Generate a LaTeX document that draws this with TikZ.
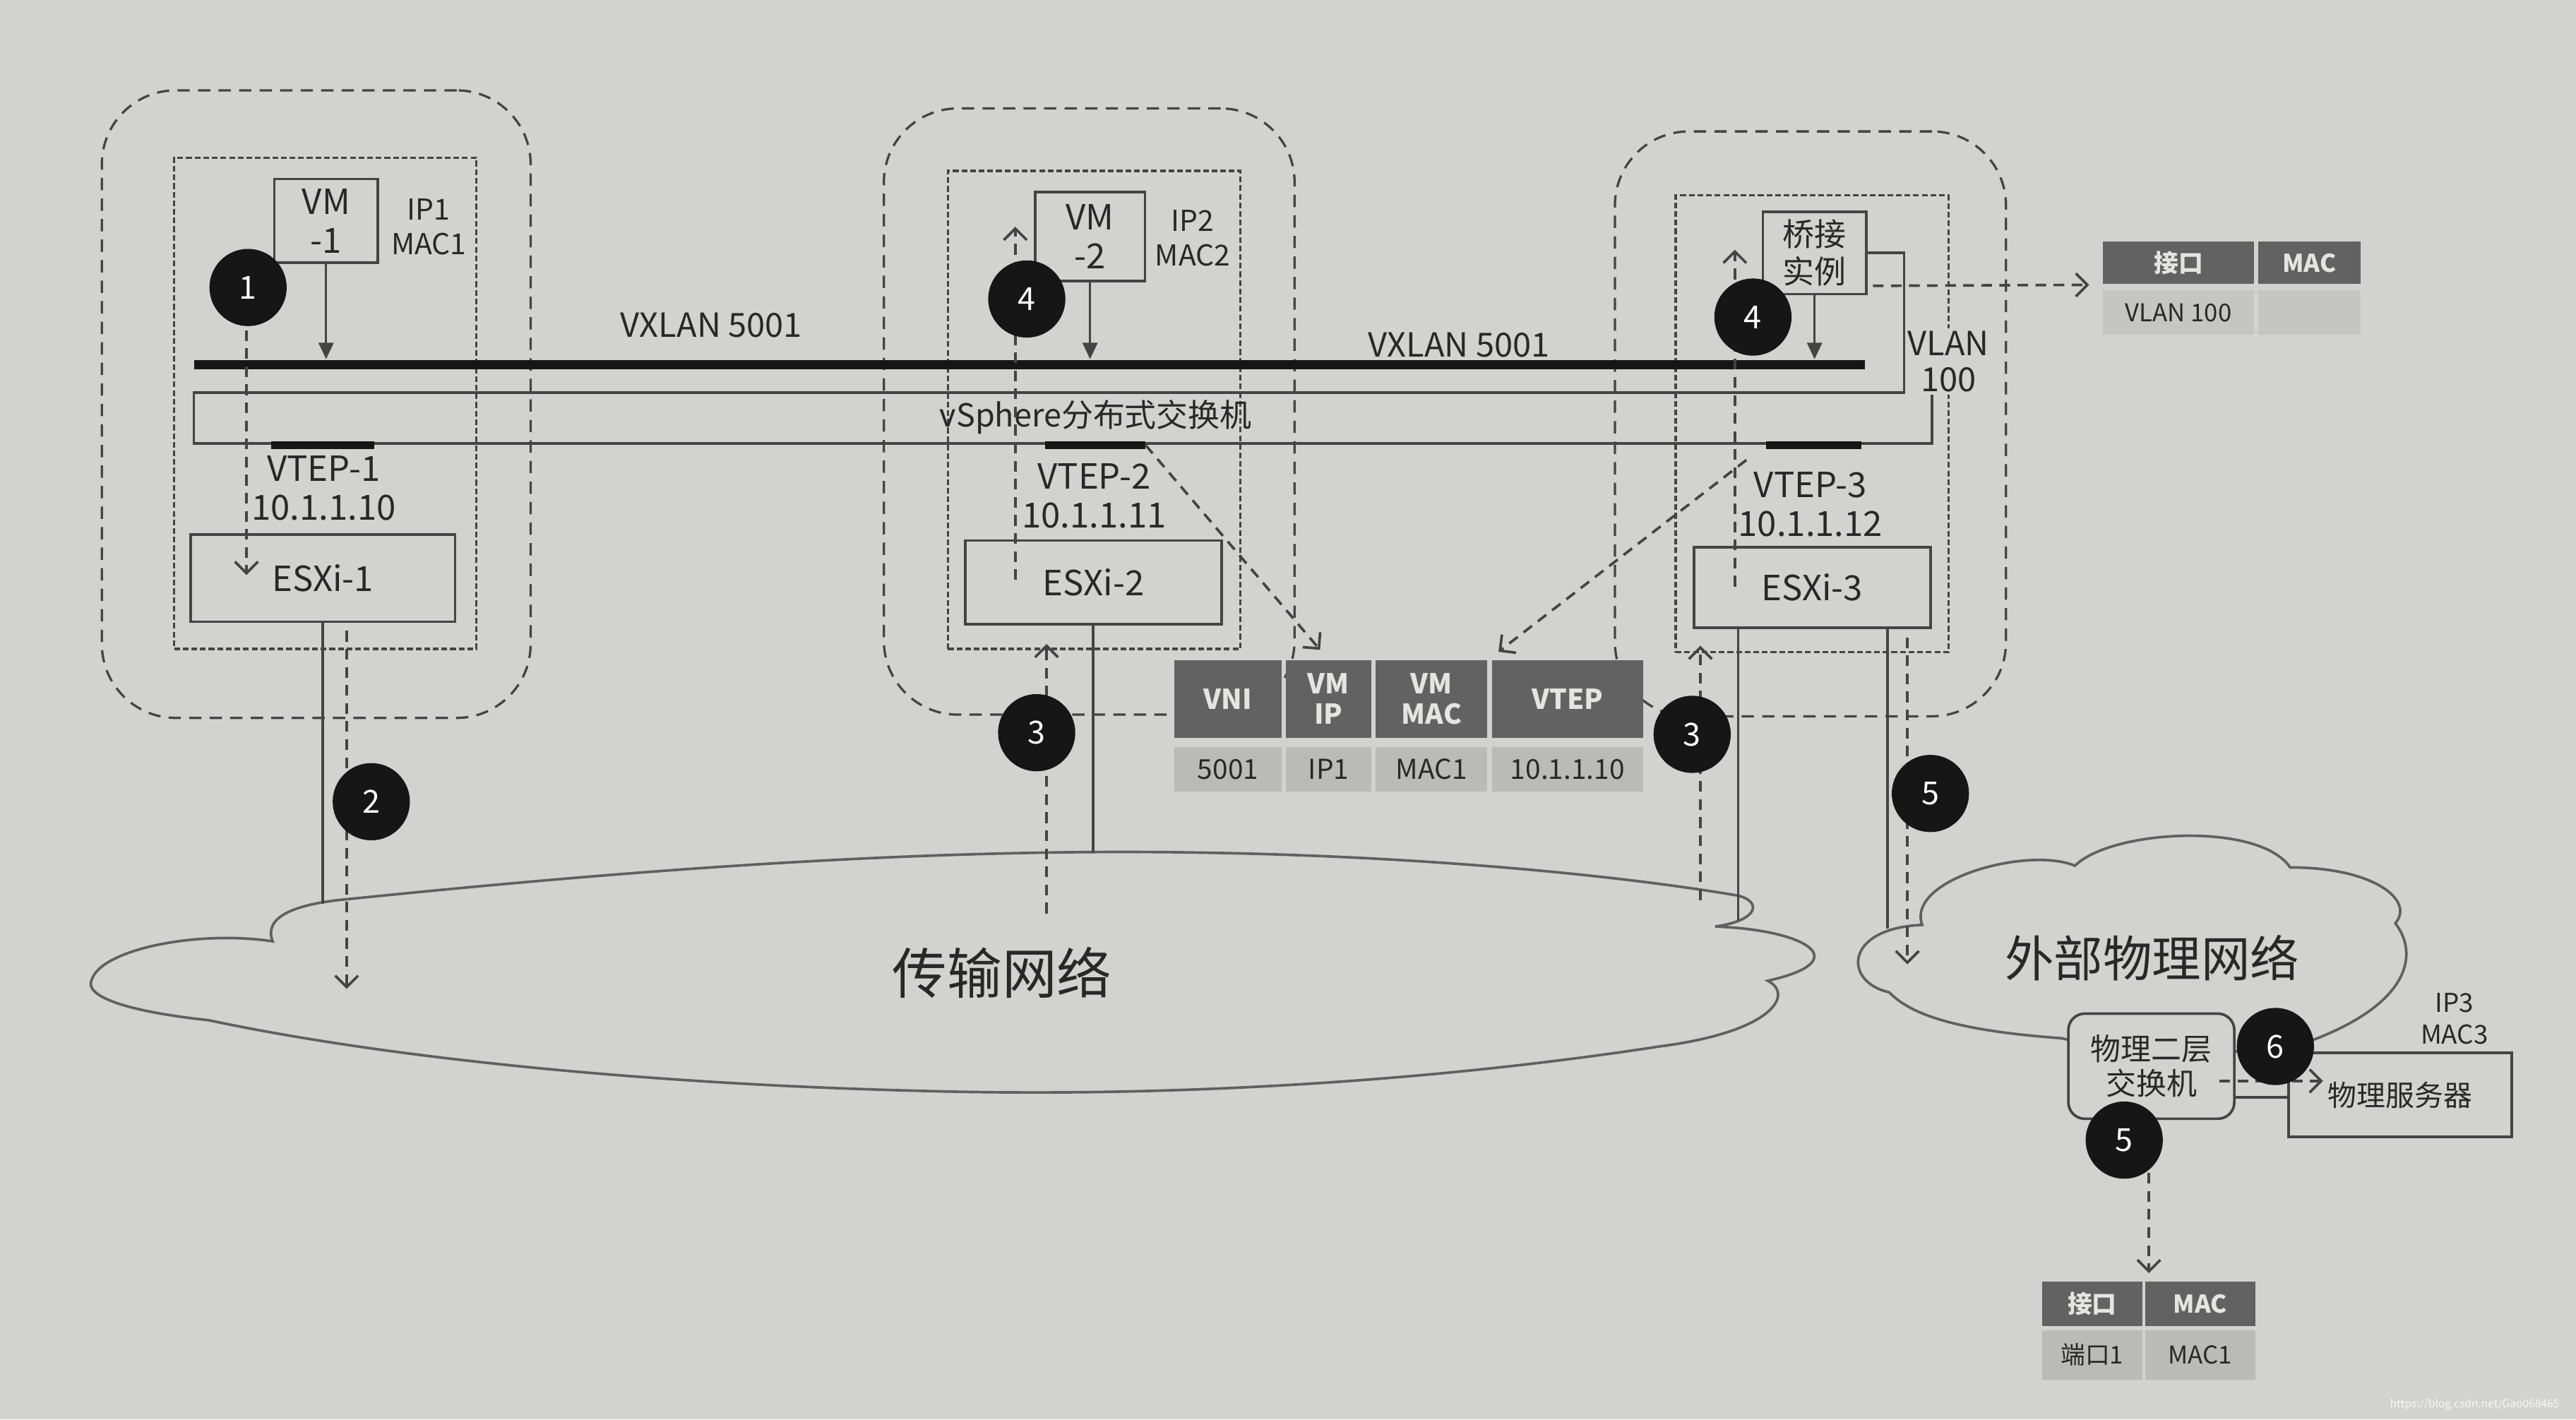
\documentclass[tikz,border=0pt]{standalone}
\usepackage{fontspec}
\setmainfont{Noto Sans CJK SC}
\usepackage{tikz}
\usetikzlibrary{arrows.meta, positioning}
\definecolor{paper}{RGB}{210,210,207}
\definecolor{ink}{RGB}{40,40,40}
\definecolor{linec}{RGB}{68,68,68}
\definecolor{dotc}{RGB}{22,22,22}
\definecolor{hdc}{RGB}{98,98,98}
\definecolor{cellc}{RGB}{186,186,183}
\definecolor{hdtext}{RGB}{228,228,226}
\newcommand\fsz[2]{\fontsize{#1}{#2}\selectfont}

\begin{document}
\begin{tikzpicture}[x=0.2mm, y=-0.2mm,
  host/.style={draw=linec, line width=0.8pt, dash pattern=on 1.5mm off 1mm, rounded corners=9mm, inner sep=0pt},
  hostin/.style={draw=linec, line width=0.8pt, dash pattern=on 0.7mm off 0.35mm, inner sep=0pt},
  box/.style={draw=linec, line width=0.9pt, align=center, inner sep=0pt, text=ink, font=\fsz{12}{13.5}},
  lbl/.style={align=center, inner sep=0pt, text=ink, font=\fsz{12}{13.5}},
  num/.style={circle, fill=dotc, text=white, minimum size=9.4mm, inner sep=0pt, font=\fsz{11}{11}},
  vtepbar/.style={fill=dotc, minimum height=0.9mm, inner sep=0pt},
  flow/.style={draw=linec, line width=0.9pt, dash pattern=on 1.3mm off 0.9mm, -{Straight Barb[length=1.4mm,width=2.8mm]}},
  feed/.style={draw=linec, line width=0.8pt, -{Triangle[length=2mm,width=1.8mm]}},
  wire/.style={draw=linec, line width=0.9pt},
  cloudl/.style={draw=linec!85, line width=0.9pt},
  hd/.style={fill=hdc, text=hdtext, align=center, inner sep=0pt, font=\bfseries\fsz{9.5}{10.5}},
  cell/.style={fill=cellc, text=ink, align=center, inner sep=0pt, font=\fsz{9.5}{10}}]
\path[use as bounding box, fill=paper] (0,0) rectangle (1568,864);

\node[host, minimum width=52.2mm, minimum height=76.4mm] (host1) at (192.5,246) {};
\node[host, minimum width=50mm, minimum height=73.8mm] (host2) at (663,250.5) {};
\node[host, minimum width=47.6mm, minimum height=71.2mm] (host3) at (1102,258) {};
\node[hostin, minimum width=36.8mm, minimum height=59.8mm] (in1) at (198,245.5) {};
\node[hostin, minimum width=35.6mm, minimum height=58.2mm] (in2) at (666,249.5) {};
\node[hostin, minimum width=33.2mm, minimum height=55.6mm] (in3) at (1103,258) {};

\draw[cloudl] (56,596)
  .. controls (62,578) and (120,566) .. (166,573)
  .. controls (160,558) and (180,551) .. (205,548)
  .. controls (380,530) and (560,516) .. (731,519)
  .. controls (860,521) and (980,532) .. (1057,545)
  .. controls (1072,548) and (1072,560) .. (1044,564)
  .. controls (1100,566) and (1130,585) .. (1076,597)
  .. controls (1092,605) and (1080,628) .. (1010,637)
  .. controls (860,660) and (700,668) .. (560,664)
  .. controls (400,660) and (240,645) .. (127,621)
  .. controls (80,616) and (50,607) .. (56,596);
\draw[cloudl] (1150,604)
  .. controls (1122,598) and (1122,565) .. (1170,563)
  .. controls (1160,535) and (1235,515) .. (1263,527)
  .. controls (1285,505) and (1375,500) .. (1394,528)
  .. controls (1445,528) and (1470,548) .. (1458,562)
  .. controls (1472,580) and (1468,610) .. (1408,633)
  .. controls (1360,645) and (1295,642) .. (1255,632)
  .. controls (1200,628) and (1165,620) .. (1150,604);
\node[font=\fsz{19}{19}, text=ink] (tnet) at (610,592) {传输网络};
\node[font=\fsz{17}{17}, text=ink] (enet) at (1310,583) {外部物理网络};

\node[fill=dotc, minimum width=203.4mm, minimum height=1.2mm, inner sep=0pt] (vxlan) at (626.5,222) {};
\node[box, minimum width=211.6mm, minimum height=6.2mm] (vds) at (647,254.5) {};
\node[lbl, font=\fsz{11}{12}] (vdsname) at (667,254) {vSphere分布式交换机};
\node[lbl, font=\fsz{11.5}{12}] (vxl1) at (433,198) {VXLAN 5001};
\node[lbl, font=\fsz{11.5}{12}] (vxl2) at (888,210) {VXLAN 5001};

\node[box, minimum width=12.6mm, minimum height=10.2mm] (vm1) at (198.5,134.5) {VM\\-1};
\node[box, minimum width=13.4mm, minimum height=10.8mm] (vm2) at (663.5,144) {VM\\-2};
\node[box, minimum width=12.6mm, minimum height=10mm, font=\fsz{11}{13}] (bridge) at (1104.5,154) {桥接\\实例};
\node[lbl, font=\fsz{10}{12}] (addr1) at (261,138) {IP1\\MAC1};
\node[lbl, font=\fsz{10}{12}] (addr2) at (726,145) {IP2\\MAC2};

\node[vtepbar, minimum width=12.6mm] (vtep1) at (196.5,271) {};
\node[vtepbar, minimum width=12.2mm] (vtep2) at (666.5,271) {};
\node[vtepbar, minimum width=11.6mm] (vtep3) at (1104,271) {};
\node[lbl] (vtl1) at (197,297) {VTEP-1\\10.1.1.10};
\node[lbl] (vtl2) at (666,302) {VTEP-2\\10.1.1.11};
\node[lbl] (vtl3) at (1102,307) {VTEP-3\\10.1.1.12};

\node[box, minimum width=32.2mm, minimum height=10.6mm] (esxi1) at (196.5,352) {ESXi-1};
\node[box, minimum width=31.2mm, minimum height=10.2mm] (esxi2) at (665.5,354.5) {ESXi-2};
\node[box, minimum width=28.8mm, minimum height=9.8mm] (esxi3) at (1103,357.5) {ESXi-3};

\coordinate (vlan) at (1159,239);
\draw[wire] (bridge.east) -| (vlan);
\node[lbl, fill=paper, inner sep=1pt, font=\fsz{11.5}{12.5}] (vlanlbl) at (1186,220) {VLAN\\100};

\draw[feed] (vm1.south) -- (vm1.south |- vxlan.north);
\draw[feed] (vm2.south) -- (vm2.south |- vxlan.north);
\draw[feed] (bridge.south) -- (bridge.south |- vxlan.north);

\coordinate (w1) at (196.5,550);
\coordinate (w2) at (665.5,519);
\coordinate (w3) at (1058,560);
\coordinate (w4) at (1149,565);
\draw[wire] (esxi1.south) -- (w1);
\draw[wire] (esxi2.south) -- (w2);
\draw[wire] (esxi3.south -| w3) -- (w3);
\draw[wire] (esxi3.south -| w4) -- (w4);

\coordinate (s1a) at (150,190);
\coordinate (s1b) at (150,350);
\coordinate (s2a) at (211,384);
\coordinate (s2b) at (211,602);
\coordinate (s3a) at (637,556);
\coordinate (s3b) at (637,392);
\coordinate (s3c) at (1035,548);
\coordinate (s3d) at (1035,393);
\coordinate (s4a) at (618,353);
\coordinate (s4b) at (618,138);
\coordinate (s4c) at (1056,357);
\coordinate (s4d) at (1056,152);
\coordinate (s5a) at (1161,388);
\coordinate (s5b) at (1161,587);
\coordinate (s5c) at (1308,681);
\coordinate (s5d) at (1308,775);
\coordinate (v3a) at (1063,280);
\coordinate (brx) at (1140,174);
\draw[flow] (s1a) -- (s1b);
\draw[flow] (s2a) -- (s2b);
\draw[flow] (s3a) -- (s3b);
\draw[flow] (s3c) -- (s3d);
\draw[flow] (s4a) -- (s4b);
\draw[flow] (s4c) -- (s4d);
\draw[flow] (s5a) -- (s5b);
\draw[flow] (s5c) -- (s5d);

\node[hd, minimum width=13mm, minimum height=9.4mm] (hvni) at (747.5,425.5) {VNI};
\node[hd, minimum width=10.4mm, minimum height=9.4mm, right=0.4mm of hvni] (hip) {VM\\IP};
\node[hd, minimum width=13.6mm, minimum height=9.4mm, right=0.4mm of hip] (hmac) {VM\\MAC};
\node[hd, minimum width=18.4mm, minimum height=9.4mm, right=0.4mm of hmac] (hvtep) {VTEP};
\node[cell, minimum width=13mm, minimum height=5.4mm, below=1mm of hvni] (dvni) {5001};
\node[cell, minimum width=10.4mm, minimum height=5.4mm, below=1mm of hip] (dip) {IP1};
\node[cell, minimum width=13.6mm, minimum height=5.4mm, below=1mm of hmac] (dmac) {MAC1};
\node[cell, minimum width=18.4mm, minimum height=5.4mm, below=1mm of hvtep] (dvtep) {10.1.1.10};

\draw[flow, shorten >=1.6mm] (vtep2.east) -- (hip.north);
\draw[flow, shorten >=1.6mm] (v3a) -- (hmac.north east);

\node[hd, font=\bfseries\fsz{8.5}{9}, minimum width=18.4mm, minimum height=5.2mm] (hport) at (1326,160) {接口};
\node[hd, font=\bfseries\fsz{8.5}{9}, minimum width=12.4mm, minimum height=5.2mm, right=0.4mm of hport] (hmacr) {MAC};
\node[cell, fill=cellc!55!paper, font=\fsz{8.5}{9}, minimum width=18.4mm, minimum height=5.4mm, below=0.6mm of hport] (dport) {VLAN 100};
\node[cell, fill=cellc!55!paper, minimum width=12.4mm, minimum height=5.4mm, below=0.6mm of hmacr] (dmacr) {};
\draw[flow, shorten >=1.6mm] (brx) -- (hport.south west);

\node[box, rounded corners=2mm, fill=paper, minimum width=20.2mm, minimum height=12.8mm, font=\fsz{10.5}{12}] (sw) at (1309.5,649) {物理二层\\交换机};
\node[box, minimum width=27.2mm, minimum height=10.2mm, font=\fsz{10}{12}] (srv) at (1461,666.5) {物理服务器};
\node[lbl, font=\fsz{9}{11}] (addr3) at (1494,620) {IP3\\MAC3};
\coordinate (link) at (1376,668);
\coordinate (s6a) at (1351,658);
\coordinate (s6b) at (1414,658);
\draw[wire] (sw.east |- link) -- (srv.west |- link);
\draw[flow] (s6a) -- (s6b);

\node[hd, font=\bfseries\fsz{8.5}{9}, minimum width=12.2mm, minimum height=5.4mm] (hport2) at (1273.5,793.5) {接口};
\node[hd, font=\bfseries\fsz{8.5}{9}, minimum width=13.4mm, minimum height=5.4mm, right=0.2mm of hport2] (hmac2) {MAC};
\node[cell, font=\fsz{8.5}{9}, minimum width=12.2mm, minimum height=6mm, below=0.4mm of hport2] (dport2) {端口1};
\node[cell, font=\fsz{8.5}{9}, minimum width=13.4mm, minimum height=6mm, below=0.4mm of hmac2] (dmac2) {MAC1};

\node[num] (c1) at (151,175) {1};
\node[num] (c2) at (226,488) {2};
\node[num] (c3a) at (631,446) {3};
\node[num] (c3b) at (1030,447) {3};
\node[num] (c4a) at (625,182) {4};
\node[num] (c4b) at (1067,193) {4};
\node[num] (c5a) at (1175,483) {5};
\node[num] (c5b) at (1293,694) {5};
\node[num] (c6) at (1385,637) {6};

\node[text=white!85!paper, font=\fsz{3.8}{4}, anchor=east] (wm) at (1564,855) {https://blog.csdn.net/Gao068465};
\end{tikzpicture}
\end{document}
